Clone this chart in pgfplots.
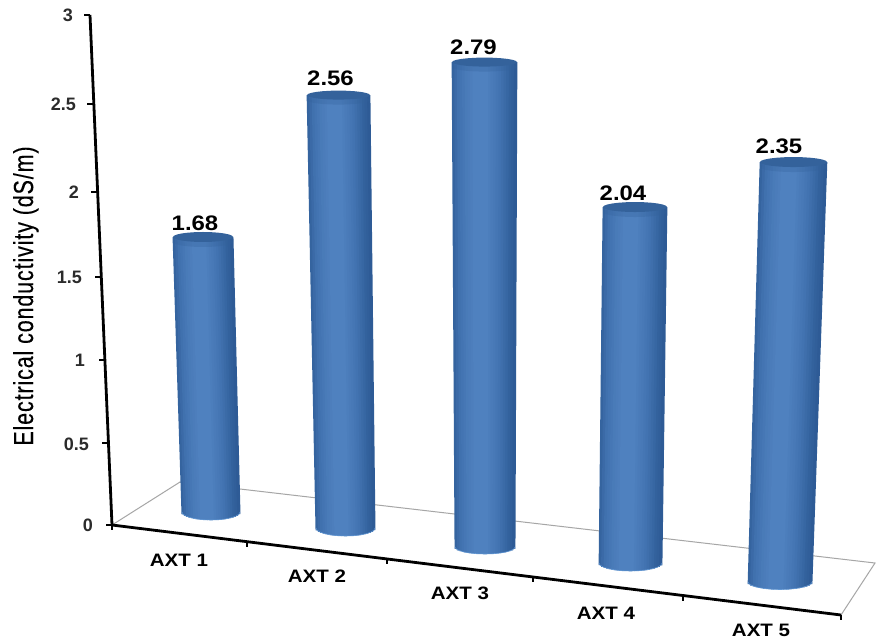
\documentclass[border=0pt]{standalone}
\usepackage{fontspec}
\setmainfont[FakeStretch=1.14]{Liberation Sans}
\newfontfamily\uprightfont[FakeBold=0.25,LetterSpace=4]{Liberation Sans}
\newfontfamily\ticknumfont{Liberation Sans Bold}
\usepackage{graphicx}
\usepackage{pgfplots}
\usepackage{pgfplotstable}
\pgfplotsset{compat=1.18}

% colours across a cylinder wall, left to right
\definecolor{cylA}{HTML}{35649F}
\definecolor{cylB}{HTML}{4374B2}
\definecolor{cylC}{HTML}{4F81BF}
\definecolor{cylD}{HTML}{4576B4}
\definecolor{cylE}{HTML}{33629D}
\definecolor{cylF}{HTML}{2E5B96}
\definecolor{lidA}{HTML}{34629B}
\definecolor{rimblue}{HTML}{5F95D2}
\definecolor{floorgrey}{HTML}{A6A6A6}
\definecolor{ticktext}{HTML}{2B2B2B}

% one row per column of the chart: base position, lean and rise per unit,
% radii at foot and lid, label offset, and the measured value
\pgfplotstableread{
bx    by   ux     uy      rf    rt    bf  bt   lx    ly   v
211   512  -4.76  -163.7  29    30    8   5    -8    -14  1.68
345.5 528  -2.73  -169.1  29.5  31.5  8   4.5  -8    -17  2.56
485   547  -0.18  -173.8  30    32.5  7   4.5  -11   -15  2.79
630.5 563   2.20  -174.5  31.5  32    8   5    -12   -14  2.04
780   582   5.74  -178.7  32    33.5  7.5 5    -14.5 -16  2.35
}\bars

% foot and lid ends of one vertical strip of the wall
\pgfplotstableread{
u w e
0 0 0
0 1 0
}\stripends

\pgfplotstableread{
u      w e
-1     0 0
-0.966 0 0.259
-0.866 0 0.5
-0.707 0 0.707
-0.5   0 0.866
-0.259 0 0.966
0      0 1
0.259  0 0.966
0.5    0 0.866
0.707  0 0.707
0.866  0 0.5
0.966  0 0.259
1      0 0
}\footarc

\pgfplotstableread{
u      w e
-1     1 0
-0.966 1 0.259
-0.866 1 0.5
-0.707 1 0.707
-0.5   1 0.866
-0.259 1 0.966
0      1 1
0.259  1 0.966
0.5    1 0.866
0.707  1 0.707
0.866  1 0.5
0.966  1 0.259
1      1 0
0.966  1 -0.259
0.866  1 -0.5
0.707  1 -0.707
0.5    1 -0.866
0.259  1 -0.966
0      1 -1
-0.259 1 -0.966
-0.5   1 -0.866
-0.707 1 -0.707
-0.866 1 -0.5
-0.966 1 -0.259
}\lid

\pgfplotstableread{
u w e
0 1 0
}\toppoint

\newcommand\getbar[2]{\pgfplotstablegetelem{#1}{#2}\of\bars
  \expandafter\let\csname c#2\endcsname\pgfplotsretval}

\newcommand\cylx{\cbx+\cux*\cv*\thisrow{w}+\thisrow{u}*(\crf+(\crt-\crf)*\thisrow{w})}
\newcommand\cyly{\cby+\cuy*\cv*\thisrow{w}+\thisrow{e}*(\cbf+(\cbt-\cbf)*\thisrow{w})}

% one wall strip at position #1 across the width, foot arc depth #2, colour #3
\newcommand\strip[3]{%
  \addplot[color=#3, line width=3.3pt]
    table[x expr={\cbx+\cux*\cv*\thisrow{w}+(#1)*(\crf+(\crt-\crf)*\thisrow{w})},
          y expr={\cby+\cuy*\cv*\thisrow{w}+(1-\thisrow{w})*(#2)*\cbf}] {\stripends};}

\begin{document}
\begin{tikzpicture}
\begin{axis}[
  hide axis, scale only axis, width=877pt, height=643pt,
  xmin=0, xmax=877, ymin=0, ymax=643, y dir=reverse,
  clip=false, no markers]

% page background
\addplot[draw=none, fill=white] coordinates {(0,0) (877,0) (877,643) (0,643)};

% floor outline
\addplot[floorgrey, line width=1pt] coordinates {(112,525) (180,482) (875,563) (841,615)};

% value axis and its ticks
\addplot[black, line width=2.8pt] coordinates {(112,525) (90,15)};
\addplot[black, line width=2.4pt] coordinates {(84,15) (90,15)};
\addplot[black, line width=2.4pt] coordinates {(87,104) (93,104)};
\addplot[black, line width=2.4pt] coordinates {(91,192) (97,192)};
\addplot[black, line width=2.4pt] coordinates {(95,277) (101,277)};
\addplot[black, line width=2.4pt] coordinates {(99,360) (104,360)};
\addplot[black, line width=2.4pt] coordinates {(102,443) (108,443)};
\addplot[black, line width=2.4pt] coordinates {(106,525) (112,525)};

% category axis and its ticks
\addplot[black, line width=2.8pt] coordinates {(112,525) (841,615)};
\addplot[black, line width=2.2pt] coordinates {(112,525) (112,530)};
\addplot[black, line width=2.2pt] coordinates {(247,542) (247,547)};
\addplot[black, line width=2.2pt] coordinates {(387,559) (387,564)};
\addplot[black, line width=2.2pt] coordinates {(533,577) (533,582)};
\addplot[black, line width=2.2pt] coordinates {(683,596) (683,601)};
\addplot[black, line width=2.2pt] coordinates {(841,615) (841,620)};

% the five cylinders with their value labels
\pgfplotsinvokeforeach{0,1,2,3,4}{
  \getbar{#1}{bx}\getbar{#1}{by}\getbar{#1}{ux}\getbar{#1}{uy}
  \getbar{#1}{rf}\getbar{#1}{rt}\getbar{#1}{bf}\getbar{#1}{bt}
  \getbar{#1}{lx}\getbar{#1}{ly}\getbar{#1}{v}
  \strip{-.96}{.28}{cylA}
  \strip{-.88}{.475}{cylA!60!cylB}
  \strip{-.80}{.6}{cylA!20!cylB}
  \strip{-.72}{.694}{cylB}
  \strip{-.64}{.768}{cylB!75!cylC}
  \strip{-.56}{.828}{cylB!50!cylC}
  \strip{-.48}{.877}{cylB!35!cylC}
  \strip{-.40}{.917}{cylB!20!cylC}
  \strip{-.32}{.947}{cylC}
  \strip{-.24}{.971}{cylC}
  \strip{-.16}{.987}{cylC}
  \strip{-.08}{.997}{cylC}
  \strip{0}{1}{cylC}
  \strip{.08}{.997}{cylC}
  \strip{.16}{.987}{cylC!75!cylD}
  \strip{.24}{.971}{cylC!50!cylD}
  \strip{.32}{.947}{cylC!25!cylD}
  \strip{.40}{.917}{cylD}
  \strip{.48}{.877}{cylD!85!cylE}
  \strip{.56}{.828}{cylD!65!cylE}
  \strip{.64}{.768}{cylD!45!cylE}
  \strip{.72}{.694}{cylD!25!cylE}
  \strip{.80}{.6}{cylE}
  \strip{.88}{.475}{cylE!60!cylF}
  \strip{.96}{.28}{cylF}
  \addplot[rimblue, line width=0.6pt]
    table[x expr=\cylx, y expr=\cyly] {\footarc};
  % soft shadow under the lid
  \addplot[draw=none, fill=lidA, fill opacity=0.3]
    table[x expr=\cylx, y expr=\cyly+5] {\lid};
  \addplot[draw=none, fill=lidA]
    table[x expr=\cylx, y expr=\cyly] {\lid};
  \addplot[draw=none, point meta={\cv},
    nodes near coords,
    nodes near coords style={anchor=center, inner sep=0pt, text=black,
      font=\fontsize{21}{21}\selectfont\bfseries,
      /pgf/number format/.cd, fixed, fixed zerofill, precision=2,
      assume math mode=true}]
    table[x expr=\cylx+\clx, y expr=\cyly+\cly] {\toppoint};
}

% value axis numbers and title
\tikzset{ticknum/.style={anchor=east, inner sep=0pt, text=ticktext,
  font=\fontsize{18}{18}\ticknumfont}}
\node[ticknum] at (axis cs:73,15) {3};
\node[ticknum] at (axis cs:76,104) {2.5};
\node[ticknum] at (axis cs:79,192) {2};
\node[ticknum] at (axis cs:82,277) {1.5};
\node[ticknum] at (axis cs:85,360) {1};
\node[ticknum] at (axis cs:89,444) {0.5};
\node[ticknum] at (axis cs:93,525) {0};
\node[rotate=90, anchor=base, inner sep=0pt, font=\fontsize{21.5}{22}\uprightfont] at (axis cs:33,296)
  {\scalebox{1}[1.28]{Electrical conductivity (dS/m)}};

% category names
\tikzset{catname/.style={inner sep=0pt, font=\fontsize{18}{18}\selectfont\bfseries}}
\node[catname] at (axis cs:179,560) {AXT 1};
\node[catname] at (axis cs:317,576) {AXT 2};
\node[catname] at (axis cs:460,593) {AXT 3};
\node[catname] at (axis cs:606,613) {AXT 4};
\node[catname] at (axis cs:761,630) {AXT 5};
\end{axis}
\end{tikzpicture}
\end{document}
